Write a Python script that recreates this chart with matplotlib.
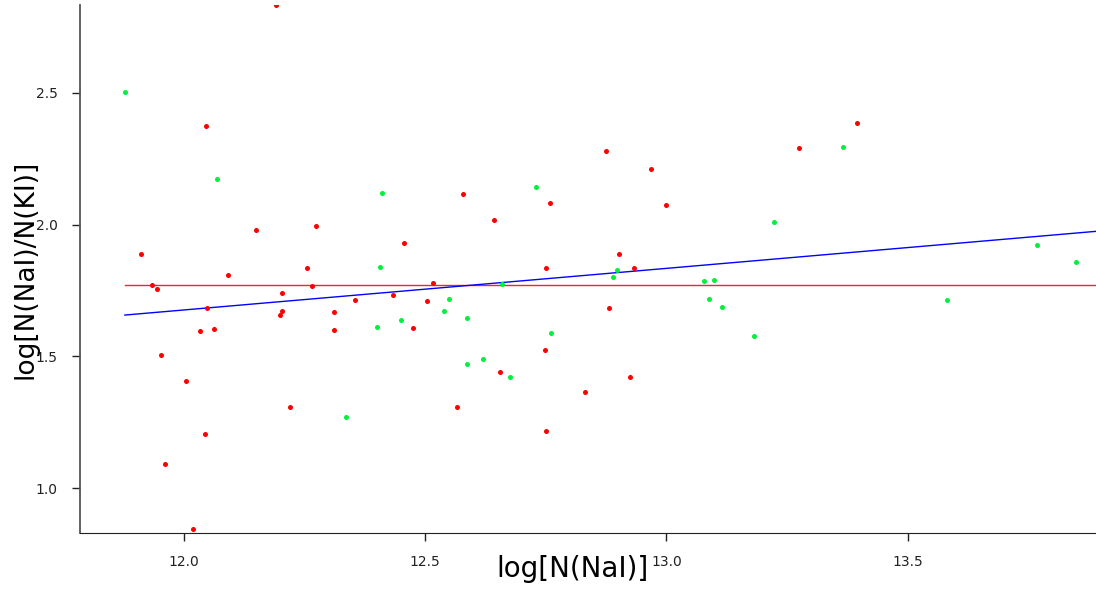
import matplotlib
matplotlib.use("Agg")
import matplotlib.pyplot as plt

# data

red_x = [12.191, 12.047, 11.911, 12.150, 12.274, 12.092, 12.256, 11.934, 11.944, 12.204,
         12.265, 12.354, 12.049, 12.034, 12.063, 12.200, 12.203, 12.312, 12.312, 11.953,
         12.004, 12.220, 12.044, 11.961, 12.019, 12.874, 12.578, 12.758, 12.643, 12.457,
         12.901, 12.750, 12.516, 12.433, 12.504, 12.475, 12.749, 12.655, 12.924, 12.831,
         12.566, 12.750, 13.394, 13.274, 12.969, 13.000, 12.933, 12.882]
red_y = [2.833, 2.374, 1.890, 1.979, 1.994, 1.809, 1.835, 1.770, 1.756, 1.742,
         1.768, 1.715, 1.682, 1.597, 1.603, 1.658, 1.672, 1.669, 1.601, 1.504,
         1.405, 1.306, 1.205, 1.091, 0.843, 2.279, 2.115, 2.082, 2.019, 1.931,
         1.889, 1.834, 1.780, 1.732, 1.711, 1.607, 1.525, 1.442, 1.421, 1.363,
         1.306, 1.217, 2.385, 2.290, 2.210, 2.073, 1.836, 1.682]

green_x = [11.878, 12.068, 12.336, 12.410, 12.729, 12.406, 12.897, 12.890, 12.659, 12.549,
           12.540, 12.451, 12.401, 12.587, 12.760, 12.619, 12.587, 12.675, 13.366, 13.223,
           13.078, 13.099, 13.088, 13.115, 13.182, 13.581, 13.767, 13.848]
green_y = [2.503, 2.173, 1.268, 2.119, 2.143, 1.839, 1.827, 1.801, 1.773, 1.718,
           1.672, 1.639, 1.610, 1.647, 1.588, 1.491, 1.471, 1.420, 2.294, 2.009,
           1.785, 1.789, 1.719, 1.688, 1.578, 1.713, 1.924, 1.857]

mean_level = 1.770
fit_slope = 0.158
fit_intercept = -0.220
line_x = [11.878, 13.89]

x_ticks = [12.0, 12.5, 13.0, 13.5]
y_ticks = [1.0, 1.5, 2.0, 2.5]

# Plot

fig = plt.figure(figsize=(10.96, 5.89), dpi=100)
ax = fig.add_axes([0.073, 0.095, 0.927, 0.8965])

ax.plot(line_x, [mean_level, mean_level], color="#ff2020", linewidth=1)
ax.plot(line_x, [fit_intercept + fit_slope * v for v in line_x], color="#0000ff", linewidth=1)
ax.scatter(red_x, red_y, s=13, color="#ff0000", linewidths=0, zorder=3)
ax.scatter(green_x, green_y, s=13, color="#00f03c", linewidths=0, zorder=3)

ax.set_xlim(11.785, 13.89)
ax.set_ylim(0.829, 2.834)
ax.set_xticks(x_ticks)
ax.set_yticks(y_ticks)
ax.set_xticklabels(["%.1f" % t for t in x_ticks])
ax.set_yticklabels(["%.1f" % t for t in y_ticks])

for side in ["top", "right"]:
    ax.spines[side].set_visible(False)
ax.spines["left"].set_color("#555555")
ax.spines["left"].set_linewidth(1.3)
ax.spines["bottom"].set_color("#222222")
ax.tick_params(direction="out", length=6, width=1, labelsize=10, pad=10, colors="#222222")

ax.set_xlabel("log[N(NaI)]", fontsize=20)
ax.xaxis.set_label_coords(0.485, -0.042)
ax.set_ylabel("log[N(NaI)/N(KI)]", fontsize=19)
ax.yaxis.set_label_coords(-0.041, 0.5)

fig.savefig("out.png", dpi=100)
